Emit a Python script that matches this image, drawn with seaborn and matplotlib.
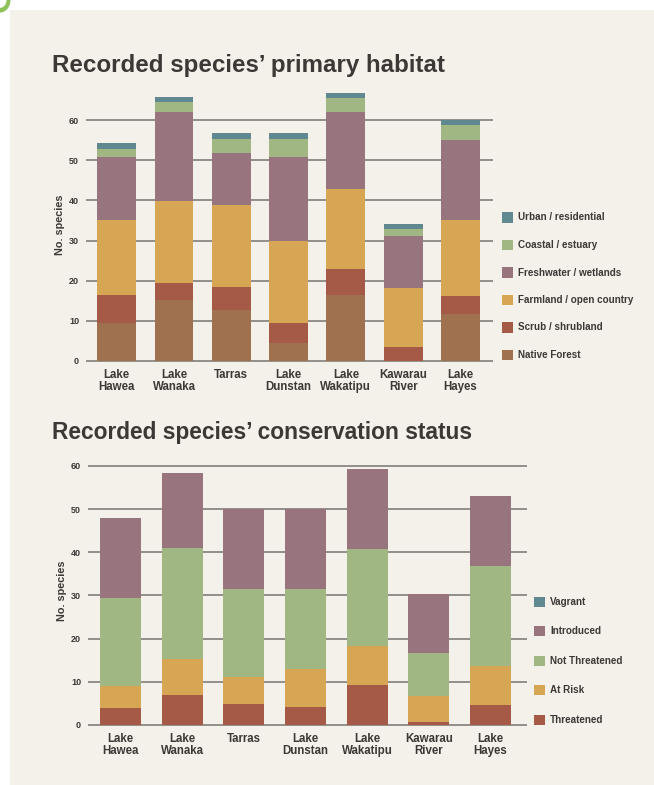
import numpy as np
import pandas as pd
import matplotlib
matplotlib.use("Agg")
import matplotlib.pyplot as plt
from matplotlib.patches import Rectangle, Wedge
import seaborn as sns

# ---------------- data ----------------
sites = ["Lake\nHawea", "Lake\nWanaka", "Tarras", "Lake\nDunstan",
         "Lake\nWakatipu", "Kawarau\nRiver", "Lake\nHayes"]

habitat_labels = ["Native Forest", "Scrub / shrubland", "Farmland / open country",
                  "Freshwater / wetlands", "Coastal / estuary", "Urban / residential"]
native_forest = [9.5, 15.2, 12.7, 4.4, 16.4, 0.0, 11.7]
scrub = [6.9, 4.2, 5.7, 5.0, 6.5, 3.5, 4.5]
farmland = [18.8, 20.5, 20.5, 20.5, 19.9, 14.7, 18.9]
freshwater = [15.5, 22.0, 12.8, 21.0, 19.2, 12.9, 19.9]
coastal = [2.2, 2.5, 3.7, 4.5, 3.5, 1.8, 3.8]
urban = [1.3, 1.3, 1.3, 1.3, 1.2, 1.2, 1.2]

status_labels = ["Threatened", "At Risk", "Not Threatened", "Introduced", "Vagrant"]
threatened = [4.0, 6.9, 4.9, 4.2, 9.3, 0.7, 4.6]
at_risk = [5.0, 8.4, 6.2, 8.8, 9.1, 6.0, 9.1]
not_threatened = [20.4, 25.6, 20.4, 18.5, 22.3, 10.0, 23.1]
introduced = [18.5, 17.4, 18.5, 18.5, 18.5, 13.6, 16.2]
vagrant = [0, 0, 0, 0, 0, 0, 0]

yticks = [0, 10, 20, 30, 40, 50, 60]

# ---------------- style ----------------
BG = "#f4f1eb"
TXT = "#3b3836"
GRID = "#8a8783"
habitat_colors = ["#a0714f", "#a55a48", "#d6a654", "#98747f", "#a0b784", "#5f8890"]
status_colors = ["#a55a48", "#d6a654", "#a0b784", "#98747f", "#5f8890"]

sns.set_theme(style="white")
plt.rcParams["font.family"] = ["Liberation Sans", "DejaVu Sans"]
plt.rcParams["font.weight"] = "bold"

W, H = 654, 785
fig = plt.figure(figsize=(W / 100, H / 100), dpi=100)
fig.patch.set_facecolor("white")

def fx(px):
    return px / W

def fy(py):
    return 1 - py / H

# beige panel
fig.add_artist(Rectangle((fx(10), 0), 1.0, fy(10), transform=fig.transFigure,
                         facecolor=BG, edgecolor="none", zorder=-10))
# green corner mark
fig.add_artist(Wedge((0, 1), 0.016, 270, 360, transform=fig.transFigure,
                     facecolor="#8fc15a", edgecolor="none", width=0.006, zorder=-9))


def fit_title(text, x_px, base_px, width_px):
    t = fig.text(fx(x_px), fy(base_px), text, fontsize=20, fontweight="bold",
                 color=TXT, ha="left", va="baseline")
    fig.canvas.draw()
    bb = t.get_window_extent()
    t.set_fontsize(20 * width_px / bb.width)
    return t


def stacked(ax, layers, colors, ymax, width, xlim):
    df = pd.DataFrame({"site": sites})
    cum = np.cumsum(np.array(layers, dtype=float), axis=0)
    for i in range(len(layers) - 1, -1, -1):
        df["v"] = cum[i]
        sns.barplot(data=df, x="site", y="v", color=colors[i], saturation=1,
                    width=width, ax=ax, zorder=3, edgecolor="none", linewidth=0)
    ax.set_xlim(*xlim)
    ax.set_ylim(0, ymax)
    ax.set_facecolor("none")
    for s in ax.spines.values():
        s.set_visible(False)
    ax.hlines(yticks, xlim[0], xlim[1], colors=GRID, linewidth=1.3, zorder=1, clip_on=False)
    ax.set_xlim(*xlim)
    ax.set_yticks(yticks)
    ax.tick_params(axis="y", length=0, pad=5, labelsize=6.5, labelcolor=TXT)
    ax.tick_params(axis="x", length=0, pad=6, labelsize=8.3, labelcolor=TXT)
    for lab in ax.get_xticklabels():
        lab.set_fontweight("bold")
        lab.set_linespacing(0.95)
    for lab in ax.get_yticklabels():
        lab.set_fontweight("bold")
    ax.set_xlabel("")
    ax.set_ylabel("No. species", fontsize=7.8, fontweight="bold", color=TXT, labelpad=3)


def legend(entries, colors, x_px, y_centers):
    for lab, c, yc in zip(entries, colors, y_centers):
        fig.add_artist(Rectangle((fx(x_px), fy(yc + 5)), fx(10.5), 10.5 / H,
                                 transform=fig.transFigure, facecolor=c, edgecolor="none"))
        fig.text(fx(x_px + 16), fy(yc), lab, fontsize=7.1, fontweight="bold",
                 color=TXT, ha="left", va="center")


# ---------- top chart ----------
ax1 = fig.add_axes([fx(86), fy(361), fx(493) - fx(86), (361 - 87.9) / H])
stacked(ax1, [native_forest, scrub, farmland, freshwater, coastal, urban],
        habitat_colors, 68, 0.68, (-0.536, 6.567))
fit_title("Recorded species\u2019 primary habitat", 52, 72, 393)
legend(habitat_labels[::-1], habitat_colors[::-1], 502,
       [217.5, 245, 272.5, 300, 327.5, 355])

# ---------- bottom chart ----------
ax2 = fig.add_axes([fx(88), fy(725), fx(527) - fx(88), (725 - 457.2) / H])
stacked(ax2, [threatened, at_risk, not_threatened, introduced, vagrant],
        status_colors, 62, 0.665, (-0.527, 6.590))
fit_title("Recorded species\u2019 conservation status", 52, 439.5, 420)
legend(status_labels[::-1], status_colors[::-1], 534,
       [602, 631, 661, 690, 720])

fig.savefig("out.png", dpi=100, facecolor="white")
